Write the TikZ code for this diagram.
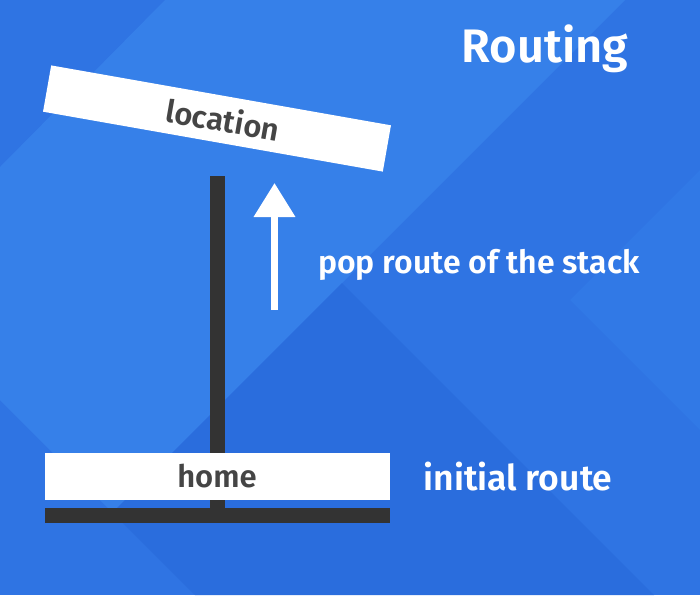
\documentclass[tikz,border=0pt]{standalone}
\usepackage{fontspec}
\setmainfont{Fira Sans}[UprightFont=* SemiBold]
\usetikzlibrary{arrows.meta,positioning}
\definecolor{bgmid}{HTML}{2F74E3}
\definecolor{bglight}{HTML}{3680E9}
\definecolor{bgdark}{HTML}{2A6DDD}
\definecolor{bgside}{HTML}{3179E6}
\definecolor{bardark}{HTML}{333333}
\definecolor{routetext}{HTML}{454545}

\begin{document}
\begin{tikzpicture}[x=1pt,y=-1pt,
   route box/.style={fill=white,text=routetext,minimum width=345pt,minimum height=47pt,
      inner sep=0pt,font=\fontsize{31}{33}\selectfont},
   caption/.style={text=white,inner sep=0pt,anchor=base,font=\fontsize{32}{34}\selectfont},
   bar/.style={fill=bardark,inner sep=0pt}]

\useasboundingbox (0,0) rectangle (700,595);
\fill[bgmid] (0,0) rectangle (700,595);
\fill[bglight] (165,0) -- (625,0) -- (112.5,512.5) -- (0,400) -- (0,167) -- cycle;
\fill[bgdark] (342,283) -- (654,595) -- (195,595) -- (112.5,512.5) -- cycle;
\fill[bgside] (570,300) -- (700,170) -- (700,430) -- cycle;

\node[bar,minimum width=345pt,minimum height=15pt] (base) at (217,515.5) {};
\coordinate (poletop) at (217,176);
\draw[bardark,line width=15pt] (base.center) -- (poletop);

\node[route box] (home) at (217,476.5) {home};
\node[route box,rotate=-10] (location) at (217,118.5) {\hspace*{12pt}location};

\coordinate (arrowfoot) at (274.5,310);
\coordinate (arrowtip) at (274.5,183);
\draw[white,line width=7pt,-{Triangle[width=40pt,length=34pt]}] (arrowfoot) -- (arrowtip);

\node[caption,font=\fontsize{47}{49}\selectfont] (title) at (545,62) {Routing};
\node[caption] (poplabel) at (479,273) {pop route of the stack};
\node[caption,font=\fontsize{35.5}{37}\selectfont] (initlabel) at (518,490) {initial route};

\end{tikzpicture}
\end{document}
